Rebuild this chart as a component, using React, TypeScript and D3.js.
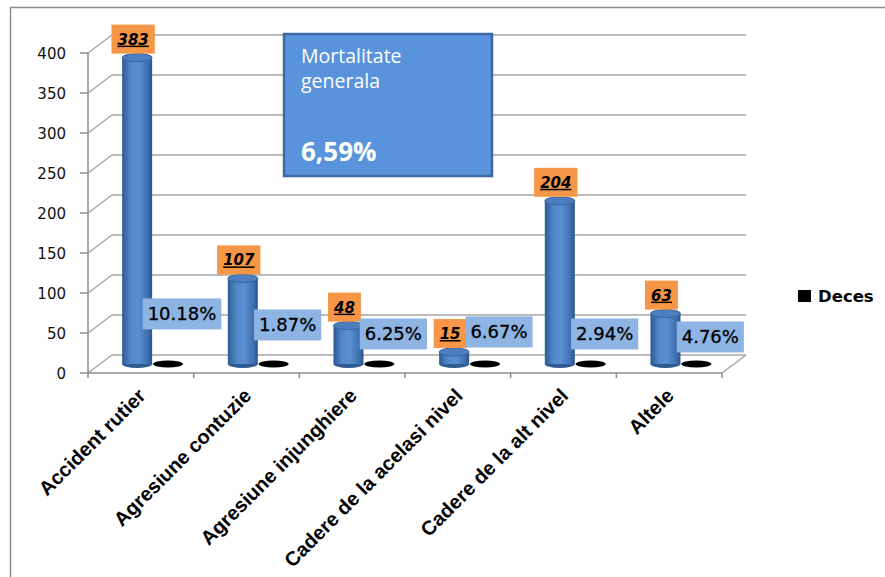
import React from 'react';
import * as d3 from 'd3';

const categories = [
  'Accident rutier',
  'Agresiune contuzie',
  'Agresiune injunghiere',
  'Cadere de la acelasi nivel',
  'Cadere de la alt nivel',
  'Altele',
];
const totalCases = [383, 107, 48, 15, 204, 63];
const decesPercent = [10.18, 1.87, 6.25, 6.67, 2.94, 4.76];
const yTicks = [0, 50, 100, 150, 200, 250, 300, 350, 400];
const legendLabel = 'Deces';
const summaryTitle = ['Mortalitate', 'generala'];
const summaryValue = '6,59%';

// layout (not data)
const W = 885;
const H = 577;
const LEFT = 88;
const RIGHT = 722;
const Y0 = 373;
const YTOP = 53;
const DX = 24;
const DY = -18;
const decesLabelLift = [51, 40, 31, 33, 31, 28];

let ctx: CanvasRenderingContext2D | null = null;
function textW(t: string, font: string): number {
  if (!ctx && typeof document !== 'undefined') ctx = document.createElement('canvas').getContext('2d');
  if (!ctx) return t.length * 9;
  ctx.font = font;
  return ctx.measureText(t).width;
}

export default function App() {
  const y = d3.scaleLinear().domain([0, 400]).range([Y0, YTOP]);
  const x = d3.scaleBand<string>().domain(categories).range([LEFT, RIGHT]).padding(0);
  const bw = x.bandwidth();
  const grid = '#a6a6a6';
  const barRx = 15;
  const barRy = 4;
  const baseShiftY = -9;

  const orangeFont = 'italic bold 15px "DejaVu Sans"';
  const blueFont = '18px "DejaVu Sans"';

  return (
    <svg width={W} height={H} style={{ position: 'absolute', left: 0, top: 0, background: '#fff' }}>
      <defs>
        <linearGradient id="cyl" x1="0" x2="1" y1="0" y2="0">
          <stop offset="0" stopColor="#2e5a93" />
          <stop offset="0.3" stopColor="#5289cc" />
          <stop offset="0.55" stopColor="#5a8fd2" />
          <stop offset="0.85" stopColor="#3f70b0" />
          <stop offset="1" stopColor="#2b558c" />
        </linearGradient>
      </defs>
      {/* outer frame */}
      <rect x={10.5} y={7.5} width={880} height={600} fill="none" stroke="#8c8c8c" strokeWidth={1.5} />

      {/* back wall gridlines & side diagonals */}
      {yTicks.map((t) => (
        <g key={'g' + t}>
          <line x1={LEFT + DX} x2={RIGHT + DX} y1={y(t) + DY} y2={y(t) + DY} stroke={grid} strokeWidth={1.5} />
          <line x1={LEFT} x2={LEFT + DX} y1={y(t)} y2={y(t) + DY} stroke={grid} strokeWidth={1.5} />
          <line x1={LEFT - 8} x2={LEFT} y1={y(t)} y2={y(t)} stroke="#8c8c8c" strokeWidth={1.5} />
          <text x={66} y={y(t) + 5.5} textAnchor="end" fontFamily="DejaVu Sans" fontSize={15} fill="#111">
            {t}
          </text>
        </g>
      ))}
      {/* floor */}
      <line x1={LEFT} x2={RIGHT} y1={Y0} y2={Y0} stroke="#8c8c8c" strokeWidth={1.5} />
      <line x1={RIGHT} x2={RIGHT + DX} y1={Y0} y2={Y0 + DY} stroke={grid} strokeWidth={1.5} />
      <line x1={LEFT} x2={LEFT} y1={YTOP} y2={Y0} stroke="#8c8c8c" strokeWidth={1.5} />
      {categories.map((c, i) => (
        <line key={'xt' + i} x1={x(c)!} x2={x(c)!} y1={Y0} y2={Y0 + 5} stroke="#8c8c8c" strokeWidth={1.5} />
      ))}
      <line x1={RIGHT} x2={RIGHT} y1={Y0} y2={Y0 + 5} stroke="#8c8c8c" strokeWidth={1.5} />

      {/* summary box */}
      <rect x={284} y={34} width={208} height={142} fill="#5893dc" stroke="#3d6aa3" strokeWidth={2.5} />
      <text x={301} y={63} fill="#fff" fontFamily="Open Sans" fontSize={19.5}>{summaryTitle[0]}</text>
      <text x={301} y={88} fill="#fff" fontFamily="Open Sans" fontSize={19.5}>{summaryTitle[1]}</text>
      <text x={301} y={161} fill="#fff" fontFamily="Open Sans" fontWeight="bold" fontSize={26}>{summaryValue}</text>

      {/* bars */}
      {categories.map((c, i) => {
        const cx = x(c)! + bw * 0.465;
        const yb = y(0) + baseShiftY;
        const yt = y(totalCases[i]) + baseShiftY;
        const dcx = x(c)! + bw * 0.757;
        const dcy = y(decesPercent[i] / 100) + baseShiftY;
        const oTxt = String(totalCases[i]);
        const ow = textW(oTxt, orangeFont) + 12;
        const oh = 29;
        const ocx = cx - 4;
        const oBottom = yt - barRy;
        const bTxt = decesPercent[i].toFixed(2) + '%';
        const bwid = textW(bTxt, blueFont) + 10;
        const bh = 31;
        const bcx = dcx + 14;
        const bcy = dcy - decesLabelLift[i] + 1;
        return (
          <g key={'b' + i}>
            <ellipse cx={cx} cy={yb} rx={barRx} ry={barRy} fill="#2f5b94" />
            <rect x={cx - barRx} y={yt} width={barRx * 2} height={yb - yt} fill="url(#cyl)" />
            <ellipse cx={cx} cy={yt} rx={barRx} ry={barRy} fill="#4d7fc0" stroke="#35649f" strokeWidth={1} />
            <ellipse cx={dcx} cy={dcy} rx={barRx} ry={3.5} fill="#000" />
            <rect x={ocx - ow / 2} y={oBottom - oh} width={ow} height={oh} fill="#f79646" />
            <text
              x={ocx}
              y={oBottom - oh / 2 + 5.5}
              textAnchor="middle"
              fontFamily="DejaVu Sans"
              fontStyle="italic"
              fontWeight="bold"
              fontSize={15}
              textDecoration="underline"
              fill="#000"
            >
              {oTxt}
            </text>
            <rect x={bcx - bwid / 2} y={bcy - bh / 2} width={bwid} height={bh} fill="#8db4e3" />
            <text
              x={bcx}
              y={bcy + 6.5}
              textAnchor="middle"
              fontFamily="DejaVu Sans"
              fontSize={18}
              fill="#000"
              stroke="#000"
              strokeWidth={0.3}
            >
              {bTxt}
            </text>
          </g>
        );
      })}

      {/* x labels */}
      {categories.map((c, i) => (
        <text
          key={'xl' + i}
          transform={`translate(${x(c)! + bw / 2 + 6},${397}) rotate(-45)`}
          textAnchor="end"
          fontFamily="Liberation Sans"
          fontWeight="bold"
          fontSize={20}
          fill="#000"
        >
          {c}
        </text>
      ))}

      {/* legend */}
      <rect x={798} y={290} width={13} height={12} fill="#000" />
      <text x={818} y={302} fontFamily="DejaVu Sans" fontWeight="bold" fontSize={16.5} fill="#000">
        {legendLabel}
      </text>
    </svg>
  );
}
